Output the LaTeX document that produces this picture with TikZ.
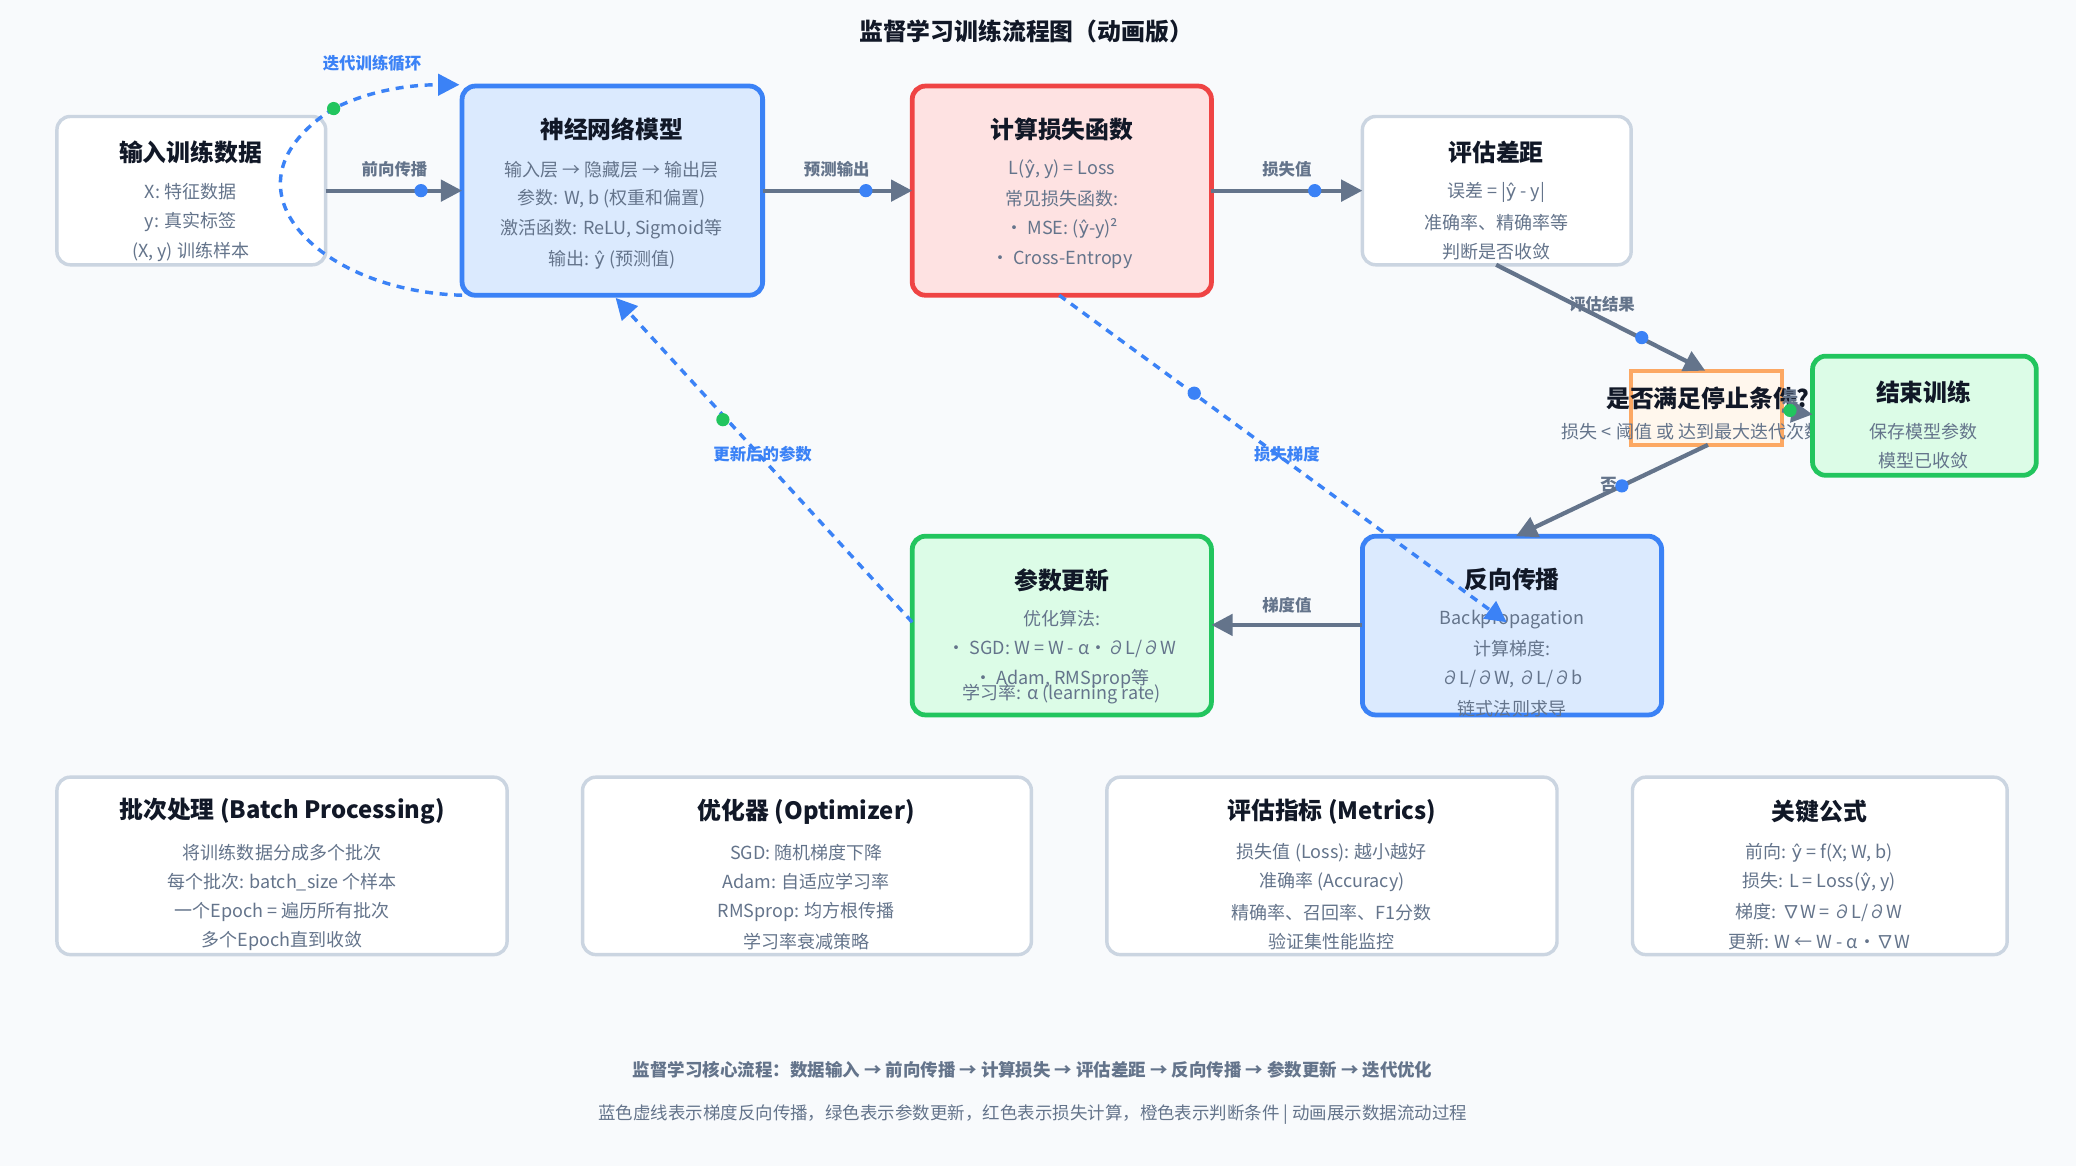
\documentclass[tikz,border=0pt]{standalone}
\usepackage{fontspec}
\setmainfont{Noto Sans CJK SC}
\newfontfamily\djv{DejaVu Sans}
\newcommand{\yh}{{\djv ŷ}}
\usetikzlibrary{arrows.meta}
\definecolor{bg}{HTML}{F8FAFC}
\definecolor{txt}{HTML}{64748B}
\definecolor{dark}{HTML}{111827}
\definecolor{arr}{HTML}{64748B}
\definecolor{bb}{HTML}{3B82F6}\definecolor{bf}{HTML}{DBEAFE}
\definecolor{rb}{HTML}{EF4444}\definecolor{rf}{HTML}{FEE2E2}
\definecolor{gb}{HTML}{22C55E}\definecolor{gf}{HTML}{DCFCE7}
\definecolor{grb}{HTML}{CBD5E1}
\definecolor{ob}{HTML}{FB923C}\definecolor{of}{HTML}{FFF7ED}
\tikzset{
 box/.style={rounded corners=5pt,line width=1.3pt},
 gbox/.style={box,draw=grb,fill=white},
 blbox/.style={box,draw=bb,fill=bf,line width=1.8pt},
 rbox/.style={box,draw=rb,fill=rf,line width=1.8pt},
 gnbox/.style={box,draw=gb,fill=gf,line width=1.8pt},
 ttl/.style={font=\fontsize{9}{10}\selectfont\bfseries,text=dark},
 ln/.style={font=\fontsize{6.8}{8}\selectfont,text=txt},
 lbl/.style={font=\fontsize{6.2}{7}\selectfont\bfseries,text=txt},
 blbl/.style={font=\fontsize{6.2}{7}\selectfont\bfseries,text=bb},
 flow/.style={draw=arr,line width=1.6pt,-{Triangle[length=8pt,width=8pt]}},
 dflow/.style={draw=bb,line width=1.3pt,dash pattern=on 3pt off 2.5pt,-{Triangle[length=8pt,width=8pt]}},
 bdot/.style={circle,fill=bb,inner sep=0pt,minimum size=5pt},
 gdot/.style={circle,fill=gb,inner sep=0pt,minimum size=5pt},
}
\begin{document}
\begin{tikzpicture}[x=0.5pt,y=-0.5pt]
\useasboundingbox (0,0) rectangle (1568,881);
\fill[bg] (0,0) rectangle (1568,881);
\node[font=\fontsize{9}{10}\selectfont\bfseries,text=dark] (title) at (775,24) {监督学习训练流程图（动画版）};
% boxes
\draw[gbox] (43,88) rectangle (246,200); \node (in) at (144.5,144) {};
\node[ttl] at (144,115) {输入训练数据};
\node[ln] at (144,145) {X: 特征数据};\node[ln] at (144,168) {y: 真实标签};\node[ln] at (144,190) {(X, y) 训练样本};
\draw[blbox] (349,65) rectangle (576,223); \node (nn) at (462,144) {};
\node[ttl] at (462,98) {神经网络模型};
\node[ln] at (462,128) {输入层 → 隐藏层 → 输出层};\node[ln] at (462,150) {参数: W, b (权重和偏置)};
\node[ln] at (462,173) {激活函数: ReLU, Sigmoid等};\node[ln] at (462,196) {输出: \yh{} (预测值)};
\draw[rbox] (689,65) rectangle (915,223); \node (loss) at (802,144) {};
\node[ttl] at (802,98) {计算损失函数};
\node[ln] at (802,128) {L(\yh, y) = Loss};\node[ln] at (802,150) {常见损失函数:};
\node[ln] at (802,173) {• MSE: (\yh-y)²};\node[ln] at (802,196) {• Cross-Entropy};
\draw[gbox] (1029,88) rectangle (1232,200); \node (ev) at (1130,144) {};
\node[ttl] at (1130,115) {评估差距};
\node[ln] at (1130,145) {误差 = |\yh{} - y|};\node[ln] at (1130,168) {准确率、精确率等};\node[ln] at (1130,190) {判断是否收敛};
% decision
\draw[draw=ob!80,fill=of,line width=1.5pt] (1232,280) rectangle (1346,336);
\node (dec) at (1289,308) {};
\node[ttl] at (1290,301) {是否满足停止条件?};
\node[ln] at (1278,326) {损失 < 阈值 或 达到最大迭代次数};
\node[lbl] at (1352,300) {是};
\draw[gnbox] (1369,269) rectangle (1538,359); \node (end) at (1453,314) {};
\node[ttl] at (1453,296) {结束训练};
\node[ln] at (1453,326) {保存模型参数};\node[ln] at (1453,348) {模型已收敛};
\draw[blbox] (1029,405) rectangle (1255,540); \node (bp) at (1142,472) {};
\node[ttl] at (1142,438) {反向传播};
\node[ln] at (1142,468) {Backpropagation};\node[ln] at (1142,490) {计算梯度:};
\node[ln] at (1142,513) {∂L/∂W, ∂L/∂b};\node[ln] at (1142,535) {链式法则求导};
\draw[gnbox] (689,405) rectangle (915,540); \node (up) at (802,472) {};
\node[ttl] at (802,438) {参数更新};
\node[ln] at (802,467) {优化算法:};\node[ln] at (802,490) {• SGD: W = W - α·∂L/∂W};
\node[ln] at (802,513) {• Adam, RMSprop等};\node[ln] at (802,524) {学习率: α (learning rate)};
% connectors
\coordinate (a1) at (246,144);\coordinate (a2) at (349,144);
\draw[flow] (a1) -- (a2); \node[lbl] at (298,128) {前向传播}; \node[bdot] at (318,144) {};
\coordinate (b1) at (576,144);\coordinate (b2) at (689,144);
\draw[flow] (b1) -- (b2); \node[lbl] at (632,128) {预测输出}; \node[bdot] at (654,144) {};
\coordinate (c1) at (915,144);\coordinate (c2) at (1029,144);
\draw[flow] (c1) -- (c2); \node[lbl] at (972,128) {损失值}; \node[bdot] at (993,144) {};
\coordinate (d1) at (1130,200);\coordinate (d2) at (1288,280);
\draw[flow] (d1) -- (d2); \node[lbl] at (1210,230) {评估结果}; \node[bdot] at (1240,255) {};
\coordinate (e1) at (1290,336);\coordinate (e2) at (1145,405);
\draw[flow] (e1) -- (e2); \node[lbl] at (1215,366) {否}; \node[bdot] at (1225,367) {};
\coordinate (f1) at (1346,310);\coordinate (f2) at (1369,313);
\draw[flow] (f1) -- (f2); \node[gdot] at (1352,310) {};
\coordinate (g1) at (1029,472);\coordinate (g2) at (915,472);
\draw[flow] (g1) -- (g2); \node[lbl] at (972,457) {梯度值};
\coordinate (h1) at (800,223);\coordinate (h2) at (1138,470);
\draw[dflow] (h1) -- (h2); \node[bdot] at (902,297) {}; \node[blbl] at (972,343) {损失梯度};
\coordinate (i1) at (689,470);\coordinate (i2) at (465,225);
\draw[dflow] (i1) -- (i2); \node[gdot] at (546,317) {}; \node[blbl] at (576,343) {更新后的参数};
\coordinate (j1) at (349,223);\coordinate (j2) at (347,64);
\draw[dflow] (j1) .. controls (240,220) and (160,140) .. (252,82) .. controls (280,68) and (310,64) .. (j2);
\node[gdot] at (252,82) {}; \node[blbl] at (281,48) {迭代训练循环};
% bottom boxes
\draw[gbox] (43,587) rectangle (383,721);
\node[ttl] at (213,613) {批次处理 (Batch Processing)};
\node[ln] at (213,644) {将训练数据分成多个批次};\node[ln] at (213,666) {每个批次: batch\_size 个样本};
\node[ln] at (213,689) {一个Epoch = 遍历所有批次};\node[ln] at (213,711) {多个Epoch直到收敛};
\draw[gbox] (440,587) rectangle (779,721);
\node[ttl] at (609,613) {优化器 (Optimizer)};
\node[ln] at (609,644) {SGD: 随机梯度下降};\node[ln] at (609,666) {Adam: 自适应学习率};
\node[ln] at (609,689) {RMSprop: 均方根传播};\node[ln] at (609,711) {学习率衰减策略};
\draw[gbox] (836,587) rectangle (1176,721);
\node[ttl] at (1006,613) {评估指标 (Metrics)};
\node[ln] at (1006,644) {损失值 (Loss): 越小越好};\node[ln] at (1006,666) {准确率 (Accuracy)};
\node[ln] at (1006,689) {精确率、召回率、F1分数};\node[ln] at (1006,711) {验证集性能监控};
\draw[gbox] (1233,587) rectangle (1516,721);
\node[ttl] at (1374,613) {关键公式};
\node[ln] at (1374,644) {前向: \yh{} = f(X; W, b)};\node[ln] at (1374,666) {损失: L = Loss(\yh, y)};
\node[ln] at (1374,689) {梯度: ∇W = ∂L/∂W};\node[ln] at (1374,711) {更新: W ← W - α·∇W};
\node[font=\fontsize{6.6}{8}\selectfont\bfseries,text=txt] (f1t) at (780,808) {监督学习核心流程：数据输入 → 前向传播 → 计算损失 → 评估差距 → 反向传播 → 参数更新 → 迭代优化};
\node[font=\fontsize{6.6}{8}\selectfont,text=txt] (f2t) at (780,842) {蓝色虚线表示梯度反向传播，绿色表示参数更新，红色表示损失计算，橙色表示判断条件 | 动画展示数据流动过程};
\end{tikzpicture}
\end{document}
